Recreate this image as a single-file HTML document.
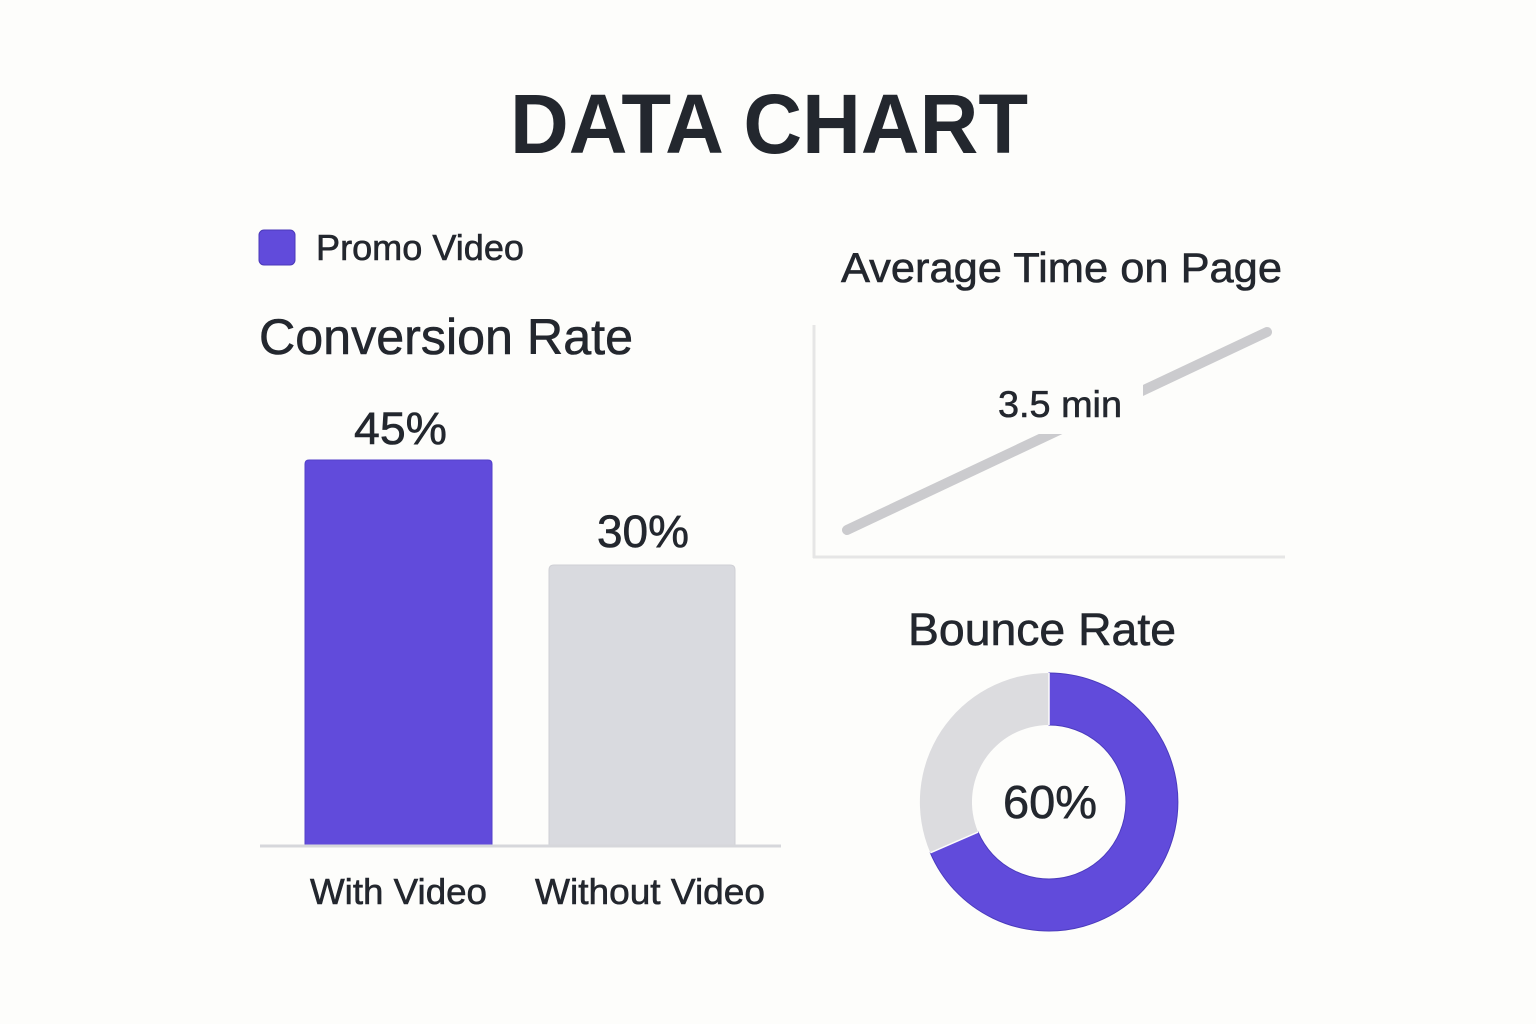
<!DOCTYPE html>
<html>
<head>
<meta charset="utf-8">
<style>
  html, body { margin: 0; padding: 0; background: #fdfdfb; }
  svg { display: block; }
  text { font-family: "Liberation Sans", "DejaVu Sans", sans-serif; fill: #23272e; }
  .m { stroke: #23272e; stroke-width: 0.6; }
</style>
</head>
<body>
<svg width="1536" height="1024" viewBox="0 0 1536 1024" xmlns="http://www.w3.org/2000/svg">
  <rect x="0" y="0" width="1536" height="1024" fill="#fdfdfb"/>

  <!-- Title -->
  <text x="510" y="153" font-size="84" font-weight="bold" textLength="518" lengthAdjust="spacingAndGlyphs" fill="#232830">DATA CHART</text>

  <!-- Legend -->
  <rect x="259" y="230" width="36" height="35" rx="5" fill="#614bdb" stroke="#4a39b8" stroke-width="1"/>
  <text class="m" x="316" y="260" font-size="36" textLength="208" lengthAdjust="spacingAndGlyphs">Promo Video</text>

  <!-- Conversion Rate -->
  <text class="m" x="259" y="354" font-size="50" textLength="374" lengthAdjust="spacingAndGlyphs">Conversion Rate</text>

  <!-- Bars -->
  <path d="M305,845 L305,464 Q305,460 309,460 L488,460 Q492,460 492,464 L492,845 Z" fill="#614bdb" stroke="#5240c9" stroke-width="1"/>
  <path d="M549,845 L549,570 Q549,565 554,565 L730,565 Q735,565 735,570 L735,845 Z" fill="#d9dadf" stroke="#cfd0d5" stroke-width="1"/>
  <line x1="260" y1="846" x2="781" y2="846" stroke="#d6d7db" stroke-width="3"/>

  <text class="m" x="354" y="444" font-size="45" textLength="93" lengthAdjust="spacingAndGlyphs">45%</text>
  <text class="m" x="597" y="547" font-size="45" textLength="92" lengthAdjust="spacingAndGlyphs">30%</text>

  <text class="m" x="310" y="904" font-size="36" textLength="177" lengthAdjust="spacingAndGlyphs">With Video</text>
  <text class="m" x="535" y="904" font-size="36" textLength="230" lengthAdjust="spacingAndGlyphs">Without Video</text>

  <!-- Average Time on Page -->
  <text class="m" x="841" y="282" font-size="42" textLength="441" lengthAdjust="spacingAndGlyphs">Average Time on Page</text>
  <line x1="814" y1="325" x2="814" y2="558" stroke="#e6e6e6" stroke-width="3"/>
  <line x1="813" y1="557" x2="1285" y2="557" stroke="#e6e6e6" stroke-width="3"/>
  <line x1="847" y1="530" x2="1267" y2="332" stroke="#cbcbce" stroke-width="10" stroke-linecap="round"/>
  <rect x="985" y="378" width="158" height="56" fill="#fdfdfb"/>
  <text class="m" x="998" y="417" font-size="37" textLength="124" lengthAdjust="spacingAndGlyphs">3.5 min</text>

  <!-- Bounce Rate -->
  <text class="m" x="908" y="645" font-size="45" textLength="268" lengthAdjust="spacingAndGlyphs">Bounce Rate</text>

  <!-- Donut -->
  <path d="M930.3,852.8 A129,129 0 0,1 1049,673 L1049,725 A77,77 0 0,0 978.1,832.1 Z" fill="#dcdcdf"/>
  <path d="M1049,673 A129,129 0 1,1 930.3,852.8 L978.1,832.1 A77,77 0 1,0 1049,725 Z" fill="#614bdb" stroke="#4b3bbd" stroke-width="1"/>
  <line x1="1049" y1="673" x2="1049" y2="725" stroke="#fdfdfb" stroke-width="1.5"/>
  <line x1="930.3" y1="852.8" x2="978.1" y2="832.1" stroke="#fdfdfb" stroke-width="1.5"/>
  <text class="m" x="1003" y="818" font-size="46" textLength="94" lengthAdjust="spacingAndGlyphs">60%</text>
</svg>
</body>
</html>
